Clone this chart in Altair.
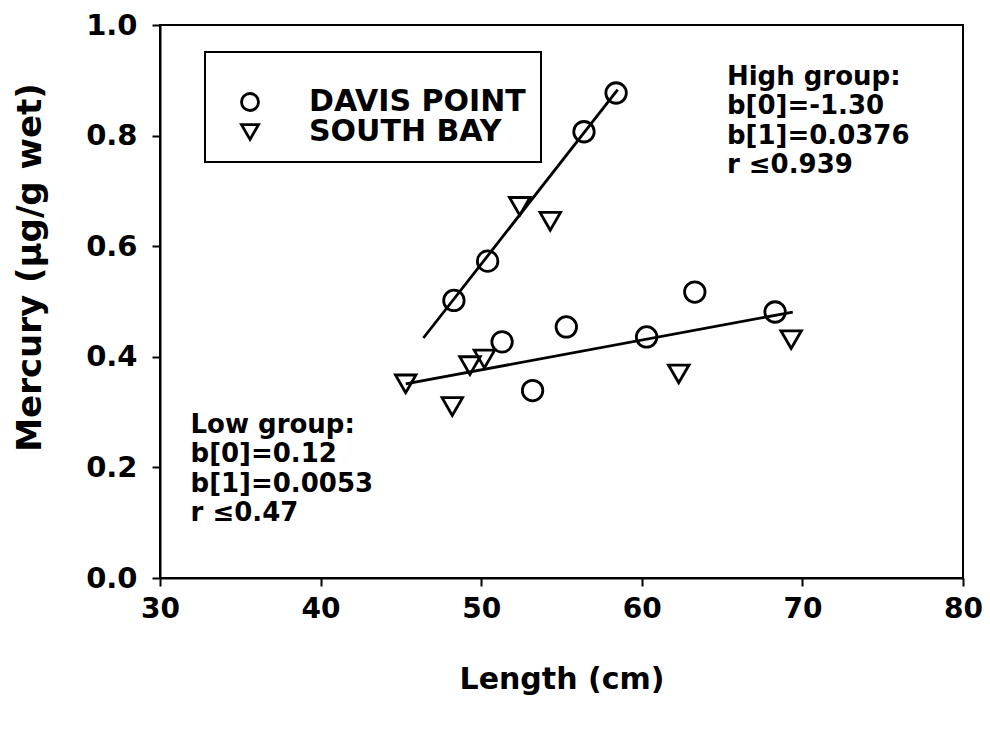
import altair as alt
import pandas as pd

# ---- data ----
davis_x = [48.3, 50.4, 56.4, 58.4, 51.3, 53.2, 55.3, 60.3, 63.3, 68.3]
davis_y = [0.502, 0.573, 0.807, 0.877, 0.427, 0.339, 0.454, 0.436, 0.517, 0.481]
south_x = [52.4, 54.3, 45.3, 48.2, 49.3, 50.2, 62.3, 69.3]
south_y = [0.672, 0.645, 0.351, 0.310, 0.384, 0.396, 0.369, 0.431]

high_line_x = [46.4, 58.5]
high_line_y = [0.434, 0.883]
low_line_x = [45.3, 69.4]
low_line_y = [0.351, 0.481]

sites = ["DAVIS POINT", "SOUTH BAY"]
x_ticks = [30, 40, 50, 60, 70, 80]
y_ticks = [0.0, 0.2, 0.4, 0.6, 0.8, 1.0]

note_text = [
    ["High group:", "b[0]=-1.30", "b[1]=0.0376", "r \u22640.939"],
    ["Low group:", "b[0]=0.12", "b[1]=0.0053", "r \u22640.47"],
]
note_x = [65.3, 31.9]
note_y = [0.892, 0.263]

FONT = "DejaVu Sans"

pts = pd.DataFrame(
    {
        "x": davis_x + south_x,
        "y": davis_y + south_y,
        "site": [sites[0]] * len(davis_x) + [sites[1]] * len(south_x),
    }
)
lines = pd.DataFrame(
    {
        "x": high_line_x + low_line_x,
        "y": high_line_y + low_line_y,
        "grp": ["high"] * 2 + ["low"] * 2,
    }
)
notes = pd.DataFrame({"x": note_x, "y": note_y, "t": note_text})

xs = alt.Scale(domain=[30, 80], nice=False, zero=False)
ys = alt.Scale(domain=[0, 1], nice=False)

xax = alt.Axis(values=x_ticks, format="d", title="Length (cm)")
yax = alt.Axis(
    values=y_ticks,
    format=".1f",
    title="Mercury (\u00b5g/g wet)",
    titleX=-130,
    titleY=242,
    titleAlign="center",
    titleBaseline="middle",
    titleAngle=270,
)

points = (
    alt.Chart(pts)
    .mark_point(filled=False, size=420, strokeWidth=2.8, color="black", opacity=1)
    .encode(
        x=alt.X("x:Q", scale=xs, axis=xax),
        y=alt.Y("y:Q", scale=ys, axis=yax),
        shape=alt.Shape(
            "site:N",
            scale=alt.Scale(domain=sites, range=["circle", "triangle-down"]),
            legend=alt.Legend(title=" "),
        ),
    )
)

fit = (
    alt.Chart(lines)
    .mark_line(color="black", strokeWidth=2.8)
    .encode(x=alt.X("x:Q", scale=xs), y=alt.Y("y:Q", scale=ys), detail="grp:N")
)

text = (
    alt.Chart(notes)
    .mark_text(
        align="left",
        baseline="alphabetic",
        font=FONT,
        fontWeight="bold",
        fontSize=26,
        lineHeight=29.5,
        color="black",
    )
    .encode(x=alt.X("x:Q", scale=xs), y=alt.Y("y:Q", scale=ys), text="t")
)

chart = (
    alt.layer(fit, points, text)
    .properties(
        width=803,
        height=553,
        autosize=alt.AutoSizeParams(type="none"),
        padding={"left": 152, "top": 17, "right": 19, "bottom": 120},
    )
    .configure_view(stroke="black", strokeWidth=2)
    .configure_axis(
        grid=False,
        domainColor="black",
        domainWidth=2,
        tickColor="black",
        tickWidth=2,
        tickSize=8,
        labelFont=FONT,
        labelFontWeight="bold",
        labelColor="black",
        titleFont=FONT,
        titleFontWeight="bold",
        titleColor="black",
    )
    .configure_axisX(labelFontSize=28, labelPadding=9, titleFontSize=30, titlePadding=41, labelFlush=False)
    .configure_axisY(labelFontSize=29, labelPadding=15, titleFontSize=34, labelFlush=False)
    .configure_legend(
        orient="none",
        legendX=45,
        legendY=27,
        padding=15,
        strokeColor="black",
        strokeWidth=2,
        fillColor="white",
        titleFontSize=20,
        titlePadding=0,
        labelFont=FONT,
        labelFontWeight="bold",
        labelFontSize=30,
        labelColor="black",
        labelLimit=0,
        labelOffset=44,
        symbolOffset=15,
        symbolSize=289,
        symbolStrokeWidth=2.8,
        symbolStrokeColor="black",
        rowPadding=-12,
    )
)

chart.save("out.html", embed_options={"renderer": "svg", "actions": False})
